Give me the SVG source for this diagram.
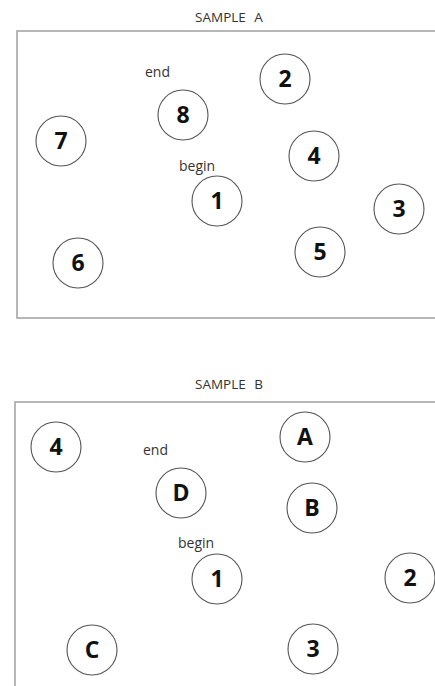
<svg xmlns="http://www.w3.org/2000/svg" width="435" height="686" viewBox="0 0 435 686">
<style>
.frame{fill:none;stroke:#a6a6a6;stroke-width:1.6}
.node circle{fill:#fff;stroke:#555;stroke-width:1.1}
.node text{font-family:"Open Sans","Liberation Sans",sans-serif;font-weight:bold;font-size:23px;fill:#111;text-anchor:middle}
.lbl{font-family:"Open Sans","Liberation Sans",sans-serif;font-size:14px;fill:#333}
.title{font-family:"Open Sans","Liberation Sans",sans-serif;font-size:13.5px;fill:#333;text-anchor:middle;word-spacing:5px}
</style>
<rect width="435" height="686" fill="#fff"/>
<text class="title" x="229" y="22">SAMPLE A</text>
<rect class="frame" x="17" y="31" width="430" height="287"/>
<text class="lbl" x="145" y="77">end</text>
<text class="lbl" x="179" y="171">begin</text>
<g id="a2" class="node"><circle cx="285" cy="79" r="25"/><text x="285" y="87">2</text></g>
<g id="a8" class="node"><circle cx="183" cy="115" r="25"/><text x="183" y="123">8</text></g>
<g id="a7" class="node"><circle cx="61" cy="141" r="25"/><text x="61" y="149">7</text></g>
<g id="a4" class="node"><circle cx="314" cy="156" r="25"/><text x="314" y="164">4</text></g>
<g id="a1" class="node"><circle cx="217" cy="201" r="25"/><text x="217" y="209">1</text></g>
<g id="a3" class="node"><circle cx="399" cy="209" r="25"/><text x="399" y="217">3</text></g>
<g id="a5" class="node"><circle cx="320" cy="252" r="25"/><text x="320" y="260">5</text></g>
<g id="a6" class="node"><circle cx="78" cy="263" r="25"/><text x="78" y="271">6</text></g>

<text class="title" x="229" y="389">SAMPLE B</text>
<rect class="frame" x="15" y="402" width="432" height="300"/>
<text class="lbl" x="143" y="455">end</text>
<text class="lbl" x="178" y="548">begin</text>
<g id="b4" class="node"><circle cx="56" cy="447" r="25"/><text x="56" y="455">4</text></g>
<g id="bA" class="node"><circle cx="305" cy="437" r="25"/><text x="305" y="445">A</text></g>
<g id="bD" class="node"><circle cx="181" cy="493" r="25"/><text x="181" y="501">D</text></g>
<g id="bB" class="node"><circle cx="312" cy="508" r="25"/><text x="312" y="516">B</text></g>
<g id="b1" class="node"><circle cx="217" cy="579" r="25"/><text x="217" y="587">1</text></g>
<g id="b2" class="node"><circle cx="410" cy="578" r="25"/><text x="410" y="586">2</text></g>
<g id="bC" class="node"><circle cx="92" cy="650" r="25"/><text x="92" y="658">C</text></g>
<g id="b3" class="node"><circle cx="313" cy="649" r="25"/><text x="313" y="657">3</text></g>
<g id="connectors"/>
</svg>
